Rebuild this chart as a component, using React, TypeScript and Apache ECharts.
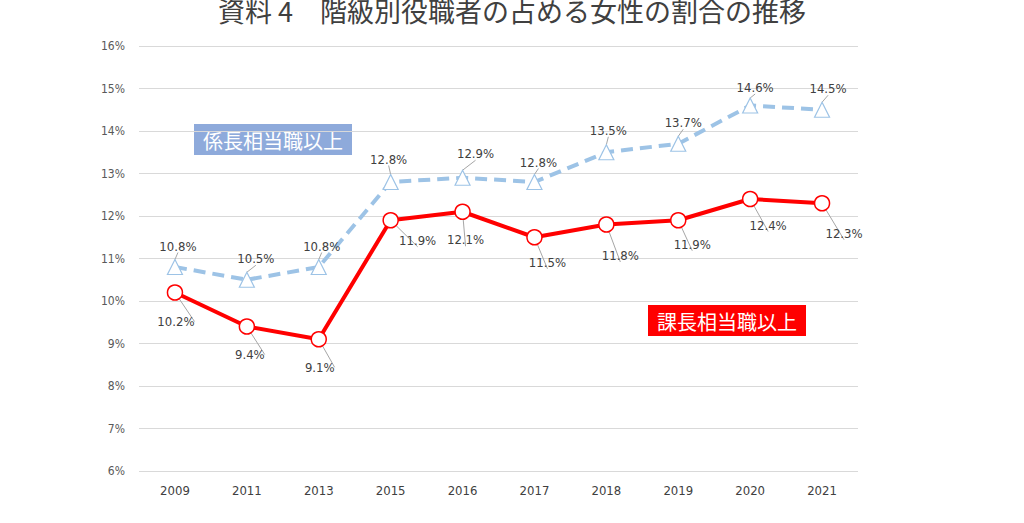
import React, { useEffect, useRef } from "react";
import * as echarts from "echarts";

const years = ["2009", "2011", "2013", "2015", "2016", "2017", "2018", "2019", "2020", "2021"];
const kakaricho = [10.8, 10.5, 10.8, 12.8, 12.9, 12.8, 13.5, 13.7, 14.6, 14.5];
const kacho = [10.2, 9.4, 9.1, 11.9, 12.1, 11.5, 11.8, 11.9, 12.4, 12.3];
const kakarichoOffsets: [number, number][] = [
  [3, -21], [9, -21], [3, -21], [-2, -23], [13, -24], [4, -20], [2, -22], [5, -21], [5, -18], [6, -21],
];
const kachoOffsets: [number, number][] = [
  [1, 29], [3, 28], [1, 28], [27, 20], [3, 28], [13, 25], [14, 31], [14, 24], [18, 26], [22, 30],
];
const titleText = "資料 4　階級別役職者の占める女性の割合の推移";
const kakarichoName = "係長相当職以上";
const kachoName = "課長相当職以上";

const numFont = "'DejaVu Sans Condensed', 'Noto Sans CJK JP', sans-serif";
const cjkFont = "'Noto Sans CJK JP', sans-serif";

export default function App() {
  const ref = useRef<HTMLDivElement>(null);
  useEffect(() => {
    document.body.style.margin = "0";
    const chart = echarts.init(ref.current!, undefined, { renderer: "svg" });
    const labelStyle = {
      show: true,
      position: "inside" as const,
      color: "#404040",
      fontSize: 13,
      fontFamily: numFont,
      formatter: (p: any) => p.value.toFixed(1) + "%",
    };
    const labelLine = { show: true, lineStyle: { color: "#a6a6a6", width: 1 } };
    chart.setOption({
      animation: false,
      backgroundColor: "#ffffff",
      title: {
        text: titleText,
        left: "center",
        top: -8,
        textStyle: { color: "#404040", fontSize: 27, fontWeight: "normal", fontFamily: cjkFont },
      },
      grid: { left: 139, right: 166, top: 46, bottom: 52 },
      xAxis: {
        type: "category",
        data: years,
        boundaryGap: true,
        axisLine: { show: false },
        axisTick: { show: false },
        axisLabel: { color: "#404040", fontSize: 13, fontFamily: numFont, margin: 13 },
      },
      yAxis: {
        type: "value",
        min: 6,
        max: 16,
        interval: 1,
        axisLine: { show: false },
        axisTick: { show: false },
        splitLine: { lineStyle: { color: "#d9d9d9", width: 1.2 } },
        axisLabel: {
          color: "#595959",
          fontSize: 12,
          fontFamily: numFont,
          margin: 14,
          formatter: (v: number) => v + "%",
        },
      },
      series: [
        {
          name: kakarichoName,
          type: "line",
          data: kakaricho.map((v, i) => ({ value: v, label: { offset: kakarichoOffsets[i] } })),
          symbol: "triangle",
          symbolSize: 15,
          lineStyle: { color: "#9dc3e6", width: 4, type: [12, 7] },
          itemStyle: { color: "#ffffff", borderColor: "#9dc3e6", borderWidth: 1.2 },
          label: labelStyle,
          labelLine,
          z: 2,
        },
        {
          name: kachoName,
          type: "line",
          data: kacho.map((v, i) => ({ value: v, label: { offset: kachoOffsets[i] } })),
          symbol: "circle",
          symbolSize: 15,
          lineStyle: { color: "#ff0000", width: 4 },
          itemStyle: { color: "#ffffff", borderColor: "#ff0000", borderWidth: 1.5 },
          label: labelStyle,
          labelLine,
          z: 3,
        },
      ],
      graphic: [
        {
          type: "group",
          left: 194,
          top: 124,
          children: [
            { type: "rect", shape: { x: 0, y: 0, width: 158, height: 31 }, style: { fill: "#8eaadb" } },
            {
              type: "text",
              x: 79,
              y: 16,
              style: {
                text: kakarichoName,
                fill: "#ffffff",
                fontSize: 20,
                fontFamily: cjkFont,
                align: "center",
                verticalAlign: "middle",
              },
            },
          ],
        },
        {
          type: "group",
          left: 648,
          top: 305,
          children: [
            { type: "rect", shape: { x: 0, y: 0, width: 158, height: 31 }, style: { fill: "#ff0000" } },
            {
              type: "text",
              x: 79,
              y: 16,
              style: {
                text: kachoName,
                fill: "#ffffff",
                fontSize: 20,
                fontFamily: cjkFont,
                align: "center",
                verticalAlign: "middle",
              },
            },
          ],
        },
      ],
    });
    return () => chart.dispose();
  }, []);
  return <div ref={ref} style={{ width: 1024, height: 523 }} />;
}
